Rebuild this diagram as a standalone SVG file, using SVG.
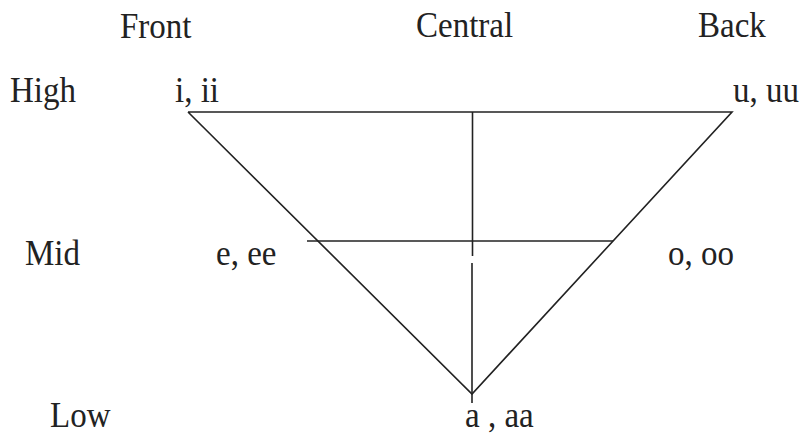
<svg xmlns="http://www.w3.org/2000/svg" width="806" height="436" viewBox="0 0 806 436">
<style>
.t{font-family:'Liberation Serif', 'Times New Roman', 'DejaVu Serif', serif;font-size:33px;fill:#222}
.ln{stroke:#222;stroke-width:1.6;fill:none;stroke-linecap:butt}
</style>
<rect width="806" height="436" fill="#fff"/>
<g id="headers" class="t">
<text transform="translate(120,38) scale(1,1.06)">Front</text>
<text transform="translate(416,37) scale(1,1.06)">Central</text>
<text transform="translate(698,37) scale(1,1.06)">Back</text>
</g>
<g id="rows" class="t">
<text transform="translate(10,102) scale(1,1.06)">High</text>
<text transform="translate(25,265) scale(1,1.06)">Mid</text>
<text transform="translate(50,427) scale(1,1.06)">Low</text>
</g>
<g id="node-i" class="t"><text transform="translate(175,102) scale(1,1.06)">i, ii</text></g>
<g id="node-u" class="t"><text transform="translate(733,102) scale(1,1.06)">u, uu</text></g>
<g id="node-e" class="t"><text transform="translate(216,265) scale(1,1.06)">e, ee</text></g>
<g id="node-o" class="t"><text transform="translate(668,265) scale(1,1.06)">o, oo</text></g>
<g id="node-a" class="t"><text transform="translate(465,427) scale(1,1.06)">a , aa</text></g>
<g id="connectors">
<polyline class="ln" points="188,112 732,112 472,394 188,112"/>
<line class="ln" x1="307" y1="241" x2="613" y2="241"/>
<line class="ln" x1="472.5" y1="112" x2="472.5" y2="256"/>
<line class="ln" x1="472" y1="263" x2="472" y2="403"/>
</g>
</svg>
